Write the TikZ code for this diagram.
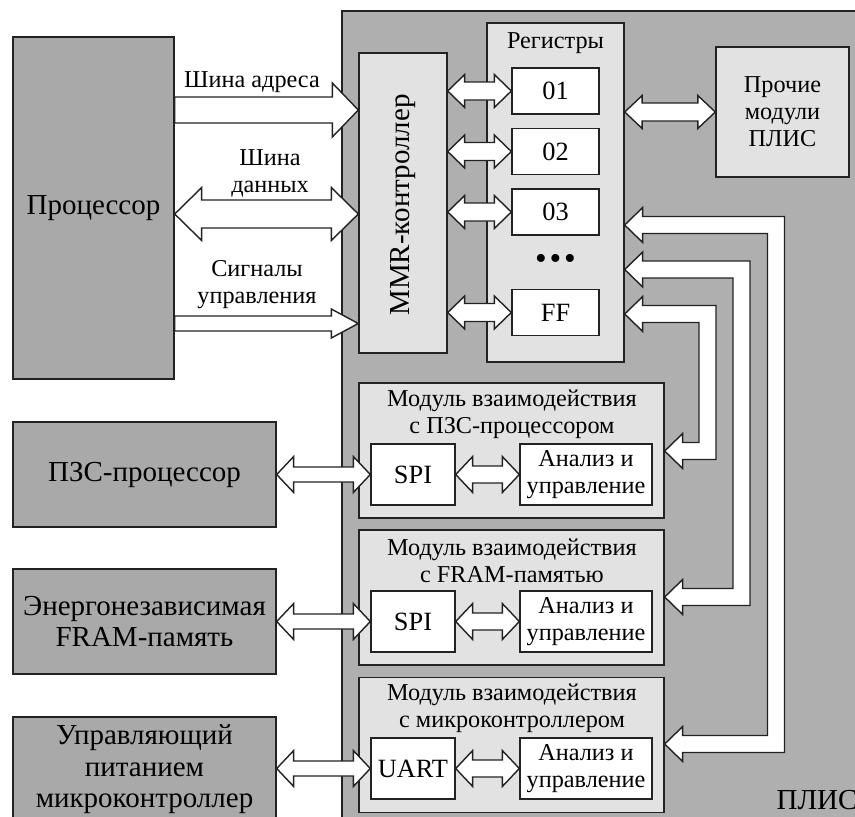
\documentclass[tikz,border=0pt]{standalone}
\usepackage{fontspec}
\setmainfont{Liberation Serif}
\usetikzlibrary{calc}

\definecolor{plisGray}{HTML}{AFAFAF}
\definecolor{extGray}{HTML}{A9A9A9}
\definecolor{innerGray}{HTML}{E2E2E2}
\definecolor{lineGray}{HTML}{222222}

\newcommand{\bigtext}{\fontsize{16.5}{18}\selectfont}
\newcommand{\midtext}{\fontsize{15}{16.5}\selectfont}
\newcommand{\smalltext}{\fontsize{13.8}{15.4}\selectfont}

\tikzset{
	block/.style={rectangle, draw=lineGray, line width=0.8pt, text centered, align=center, inner sep=0pt},
	cell/.style={block, fill=white, minimum width=1.74cm, minimum height=0.92cm, font=\midtext},
	module/.style={block, fill=innerGray, minimum width=6.1cm, minimum height=2.7cm},
	iface/.style={block, fill=white, minimum width=1.68cm, minimum height=1.22cm, font=\midtext},
	logic/.style={block, fill=white, minimum width=2.64cm, minimum height=1.22cm, font=\smalltext},
	extunit/.style={block, fill=extGray, minimum width=5.26cm, minimum height=2.1cm, font=\bigtext},
	busline/.style={fill=white, draw=lineGray, line width=0.8pt, line join=miter}
}

%two-headed bus: left point, right point, half body, half head, head length
\newcommand{\dualbus}[5]{%
	\draw[busline] (#1) -- ($(#1)+(#5,-#4)$) -- ($(#1)+(#5,-#3)$) -- ($(#2)+(-#5,-#3)$)
	-- ($(#2)+(-#5,-#4)$) -- (#2) -- ($(#2)+(-#5,#4)$) -- ($(#2)+(-#5,#3)$)
	-- ($(#1)+(#5,#3)$) -- ($(#1)+(#5,#4)$) -- cycle;}

%one-headed bus, pointing right
\newcommand{\rightbus}[5]{%
	\draw[busline] ($(#1)+(0,-#3)$) -- ($(#2)+(-#5,-#3)$) -- ($(#2)+(-#5,-#4)$) -- (#2)
	-- ($(#2)+(-#5,#4)$) -- ($(#2)+(-#5,#3)$) -- ($(#1)+(0,#3)$) -- cycle;}

%bus from register file down to a module: start node, y, riser x, end node, y
\newcommand{\returnbus}[5]{%
	\draw[busline] (#1 |- 0,#2) -- ($(#1 |- 0,#2)+(18,-17.5)$) -- ($(#1 |- 0,#2)+(18,-8.5)$)
	-- ({#3+8.5},{#2-8.5}) -- ({#3+8.5},{#5+8.5}) -- ($(#4 |- 0,#5)+(18,8.5)$)
	-- ($(#4 |- 0,#5)+(18,17.5)$) -- (#4 |- 0,#5) -- ($(#4 |- 0,#5)+(18,-17.5)$)
	-- ($(#4 |- 0,#5)+(18,-8.5)$) -- ({#3-8.5},{#5-8.5}) -- ({#3-8.5},{#2+8.5})
	-- ($(#1 |- 0,#2)+(18,8.5)$) -- ($(#1 |- 0,#2)+(18,17.5)$) -- cycle;}

\begin{document}
\begin{tikzpicture}[x=0.02cm, y=-0.02cm]
	\useasboundingbox (0,0) rectangle (855,816);
	
	%FPGA area
	\node (fpga) at (606,420.5) [block, fill=plisGray, minimum width=10.56cm, minimum height=16.38cm]{};
	\node (fpgaLabel) at (817,800) [font=\bigtext]{ПЛИС};
	
	%Processor
	\node (proc) at (93.5,208) [block, fill=extGray, minimum width=3.22cm, minimum height=6.84cm, font=\bigtext]{Процессор};
	
	%MMR controller
	\node (mmr) at (403,203) [block, fill=innerGray, minimum width=1.76cm, minimum height=6cm]{};
	\node (mmrText) at (403,205) [rotate=90, font=\bigtext]{MMR-контроллер};
	
	%Registers
	\node (regs) at (555.5,192.5) [block, fill=innerGray, minimum width=2.74cm, minimum height=6.78cm]{};
	\node (regsTitle) at (555.5,43) [font=\smalltext]{Регистры};
	\node (r01) at (555.5,91) [cell]{01};
	\node (r02) at (555.5,151.5) [cell]{02};
	\node (r03) at (555.5,212) [cell]{03};
	\node (rDots) at (555.5,262) [font=\fontsize{19}{20}\selectfont]{•\kern1.6pt•\kern1.6pt•};
	\node (rFF) at (555.5,312.5) [cell]{FF};
	
	%Other modules
	\node (other) at (782.5,112) [block, fill=innerGray, minimum width=2.66cm, minimum height=2.6cm, font=\smalltext]{Прочие\\модули\\ПЛИС};
	
	%Interaction modules
	\node (mod1) at (511.5,450.5) [module]{};
	\node (mod1Title) at (512,414) [font=\smalltext, align=center]{Модуль взаимодействия\\с ПЗС-процессором};
	\node (spi1) at (413,474.5) [iface]{SPI};
	\node (ctl1) at (586,474.5) [logic]{Анализ и\\управление};
	
	\node (mod2) at (511.5,597.5) [module]{};
	\node (mod2Title) at (512,561) [font=\smalltext, align=center]{Модуль взаимодействия\\с FRAM-памятью};
	\node (spi2) at (413,621.5) [iface]{SPI};
	\node (ctl2) at (586,621.5) [logic]{Анализ и\\управление};
	
	\node (mod3) at (511.5,745) [module]{};
	\node (mod3Title) at (512,708.5) [font=\smalltext, align=center]{Модуль взаимодействия\\с микроконтроллером};
	\node (uart) at (413,768.5) [iface]{UART};
	\node (ctl3) at (586,768.5) [logic]{Анализ и\\управление};
	
	%External units
	\node (pzs) at (144.5,474.5) [extunit]{ПЗС-процессор};
	\node (fram) at (144.5,621.5) [extunit]{Энергонезависимая\\FRAM-память};
	\node (pwr) at (144.5,769.5) [extunit]{Управляющий\\питанием\\микроконтроллер};
	
	%Processor buses
	\rightbus{proc.east |- 0,110}{mmr.west |- 0,110}{13}{27}{26}
	\dualbus{proc.east |- 0,214}{mmr.west |- 0,214}{14}{26.5}{27}
	\rightbus{proc.east |- 0,323.5}{mmr.west |- 0,323.5}{7.5}{14.5}{27}
	\node (addrLabel) at (252,82) [font=\smalltext]{Шина адреса};
	\node (dataLabel) at (270,173) [font=\smalltext, align=center]{Шина\\данных};
	\node (ctrlLabel) at (257,285) [font=\smalltext, align=center]{Сигналы\\управления};
	
	%MMR to registers
	\dualbus{mmr.east |- r01}{r01.west}{9}{16.5}{17}
	\dualbus{mmr.east |- r02}{r02.west}{9}{16.5}{17}
	\dualbus{mmr.east |- r03}{r03.west}{9}{16.5}{17}
	\dualbus{mmr.east |- rFF}{rFF.west}{9}{16.5}{17}
	\dualbus{regs.east |- other}{other.west}{9}{16.5}{17.5}
	
	%Inside modules
	\dualbus{spi1.east}{ctl1.west}{8.5}{18}{17}
	\dualbus{spi2.east}{ctl2.west}{8.5}{18}{17}
	\dualbus{uart.east}{ctl3.west}{8.5}{18}{17}
	
	%External links
	\dualbus{pzs.east}{spi1.west}{7.5}{18}{17}
	\dualbus{fram.east}{spi2.west}{7.5}{18}{17}
	\dualbus{pwr.east |- uart}{uart.west}{7.5}{18}{17}
	
	%Register buses to modules
	\returnbus{regs.east}{225}{776}{mod3.east}{744}
	\returnbus{regs.east}{269.5}{741.5}{mod2.east}{597}
	\returnbus{regs.east}{314}{707.5}{mod1.east}{451}
	
\end{tikzpicture}
\end{document}
